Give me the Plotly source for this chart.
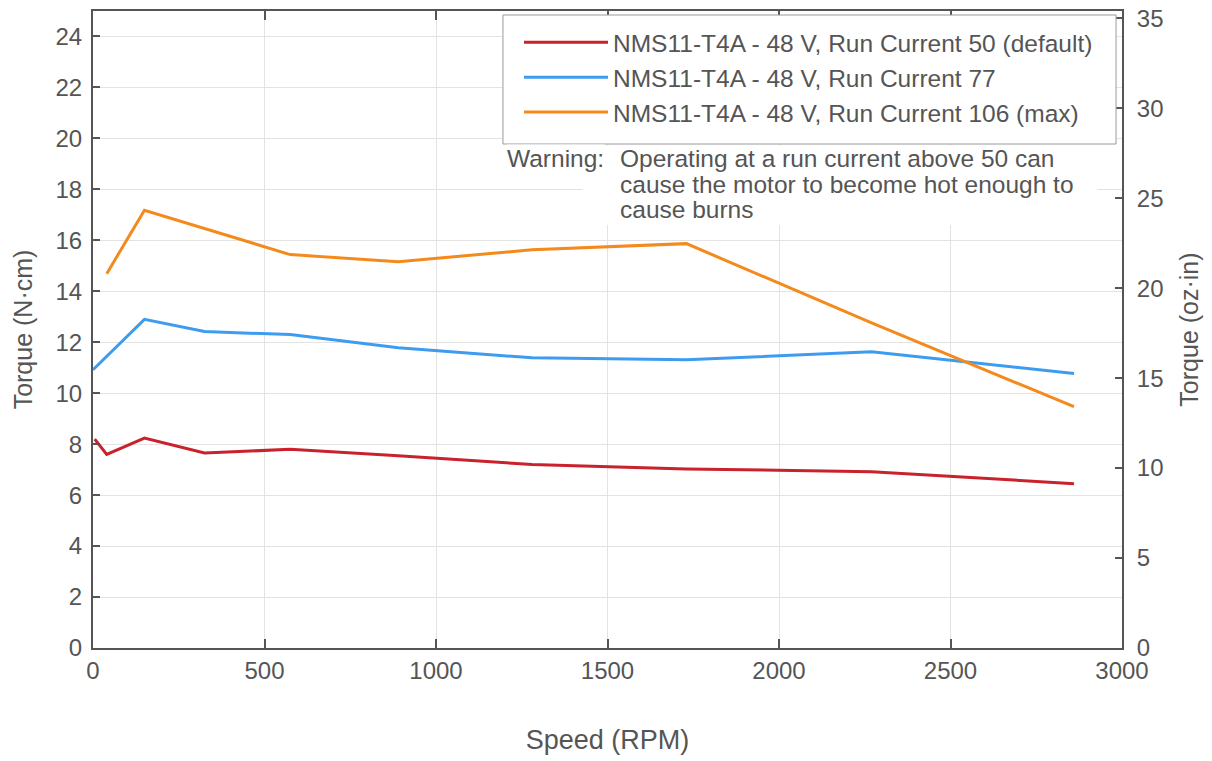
import plotly.graph_objects as go

# Data (Speed in RPM, Torque in N·cm)
speed_red = [5, 40, 150, 325, 575, 890, 1280, 1730, 2270, 2860]
torque_red = [8.2, 7.6, 8.24, 7.65, 7.8, 7.55, 7.2, 7.03, 6.92, 6.45]

speed_blue = [0, 150, 325, 575, 890, 1280, 1730, 2270, 2860]
torque_blue = [10.92, 12.9, 12.42, 12.3, 11.78, 11.39, 11.31, 11.63, 10.77]

speed_orange = [40, 150, 575, 890, 1280, 1730, 2270, 2860]
torque_orange = [14.69, 17.18, 15.44, 15.16, 15.63, 15.87, 12.76, 9.47]

names = [
    "NMS11-T4A - 48 V, Run Current 50 (default)",
    "NMS11-T4A - 48 V, Run Current 77",
    "NMS11-T4A - 48 V, Run Current 106 (max)",
]
colors = ["#c9222c", "#3d9cf0", "#f48a1c"]

warning_label = "Warning:"
warning_lines = [
    "Operating at a run current above 50 can",
    "cause the motor to become hot enough to",
    "cause burns",
]

NCM_PER_OZIN = 0.70615
y_max = 25

FONT = "Liberation Sans, Arial, sans-serif"
TXT = "#555555"
AX = "#555555"
GRID = "#e3e3e3"

fig = go.Figure()
for sx, sy, nm, c in zip([speed_red, speed_blue, speed_orange],
                         [torque_red, torque_blue, torque_orange], names, colors):
    fig.add_trace(go.Scatter(x=sx, y=sy, mode="lines", name=nm,
                             line=dict(color=c, width=3)))
# empty trace so the secondary (oz·in) axis is rendered
fig.add_trace(go.Scatter(x=[None], y=[None], yaxis="y2", showlegend=False,
                         hoverinfo="skip", mode="lines"))

fig.update_layout(
    width=1212, height=761,
    margin=dict(l=85, r=98, t=3, b=121, autoexpand=False),
    paper_bgcolor="white", plot_bgcolor="white",
    font=dict(family=FONT, color=TXT, size=24),
    xaxis=dict(
        range=[0, 3000], dtick=500, ticks="inside", ticklen=9, tickcolor=AX,
        tickwidth=1.5, ticklabeloverflow="allow", automargin=False,
        showline=True, linecolor=AX, linewidth=2, mirror="ticks",
        showgrid=True, gridcolor=GRID, gridwidth=1, zeroline=False,
        tickfont=dict(size=24, color=TXT),
        title=dict(text="Speed (RPM)", font=dict(size=27, color=TXT), standoff=47),
    ),
    yaxis=dict(
        range=[0, y_max], dtick=2, ticks="inside", ticklen=7, tickcolor=AX,
        tickwidth=1.5, ticklabelstandoff=4, ticklabeloverflow="allow",
        automargin=False,
        showline=True, linecolor=AX, linewidth=2,
        showgrid=True, gridcolor=GRID, gridwidth=1, zeroline=False,
        tickfont=dict(size=24, color=TXT),
        title=dict(text="Torque (N·cm)", font=dict(size=25, color=TXT), standoff=16),
    ),
    yaxis2=dict(
        range=[0, y_max / NCM_PER_OZIN], dtick=5, overlaying="y", side="right",
        ticks="inside", ticklen=7, tickcolor=AX, tickwidth=1.5,
        ticklabelstandoff=8, ticklabeloverflow="allow", automargin=False,
        showline=True, linecolor=AX, linewidth=2, showgrid=False, zeroline=False,
        tickfont=dict(size=24, color=TXT),
        title=dict(text="Torque (oz·in)", font=dict(size=25, color=TXT), standoff=18),
    ),
    legend=dict(
        x=0.414, y=0.986, xanchor="left", yanchor="top",
        bgcolor="rgba(0,0,0,0)", borderwidth=0,
        font=dict(size=24.5, color=TXT), tracegroupgap=0, itemwidth=84,
    ),
)

# legend frame (white, grey border) drawn as a paper-space box
fig.add_shape(type="rect", xref="paper", yref="paper",
              x0=0.3984, x1=0.9942, y0=0.7912, y1=0.9937,
              fillcolor="white", line=dict(width=1, color="#9a9a9a"), layer="above")
# white backdrop behind the warning text block (hides grid lines there)
fig.add_shape(type="rect", xref="paper", yref="paper",
              x0=0.476, x1=0.976, y0=0.664, y1=0.789,
              fillcolor="white", line=dict(width=0), layer="above")

fig.add_annotation(xref="paper", yref="paper", x=0.401, y=0.769, xanchor="left",
                   yanchor="middle", text=warning_label, showarrow=False,
                   font=dict(size=24.5, color=TXT), bgcolor="white", borderpad=0)
for ln, yy in zip(warning_lines, [0.769, 0.728, 0.689]):
    fig.add_annotation(xref="paper", yref="paper", x=0.511, y=yy, xanchor="left",
                       yanchor="middle", text=ln, showarrow=False,
                       font=dict(size=24.5, color=TXT), align="left", borderpad=0)

fig.write_html("out.html")
